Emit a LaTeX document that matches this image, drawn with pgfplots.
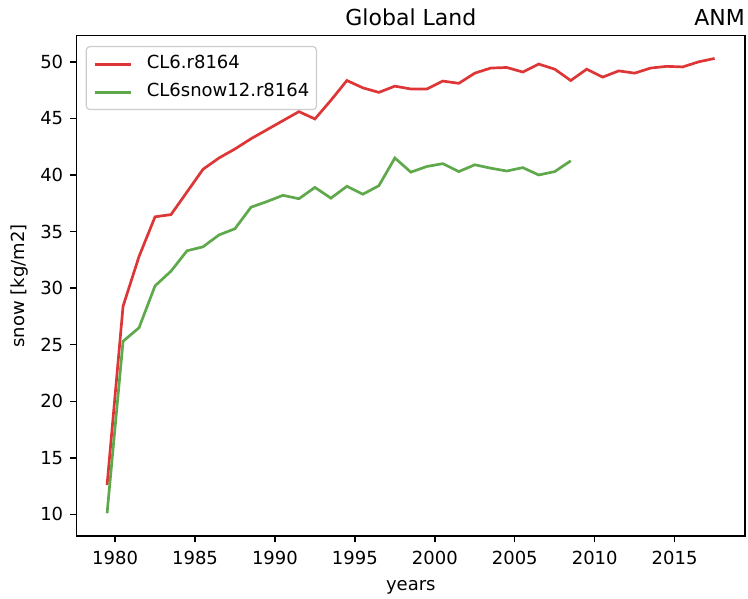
\documentclass[border=0pt]{standalone}
\usepackage{fontspec}
\setmainfont{DejaVu Sans}
\usepackage{pgfplots}
\pgfplotsset{compat=1.18}
\definecolor{cred}{RGB}{222,54,54}
\definecolor{cgreen}{RGB}{95,168,75}
\begin{document}
\begin{tikzpicture}
\useasboundingbox (-76.7pt,-62pt) rectangle (671.3pt,536pt);
\begin{axis}[
  name=ax,
  at={(0pt,0pt)}, anchor=south west,
  scale only axis, width=668.3pt, height=500.3pt,
  xmin=1977.6, xmax=2019.4, ymin=8.09, ymax=52.31,
  xtick={1980,1985,...,2015}, ytick={10,15,...,50},
  /pgf/number format/1000 sep={},
  /pgf/number format/assume math mode=true,
  tick align=outside, xtick pos=bottom, ytick pos=left,
  major tick length=6.3pt,
  every tick/.style={black, line width=1.44pt},
  axis line style={line width=1.44pt},
  tick label style={font=\fontsize{18}{21.6}\selectfont, text=black},
  xticklabel style={inner sep=0pt, yshift=-8.7pt},
  yticklabel style={inner sep=0pt, xshift=-7pt},
  legend style={at={(axis description cs:0,1)}, anchor=north west,
    xshift=9pt, yshift=-10.3pt, draw=black!20, line width=1.2pt,
    rounded corners=3.6pt, fill=white, fill opacity=0.8, text opacity=1,
    inner xsep=7.2pt, inner ysep=9pt,
    font=\fontsize{18}{21.6}\selectfont,
    nodes={inner sep=0pt, text height=13pt, text depth=4pt},
    column sep=14.4pt, row sep=11pt},
  legend cell align=left,
  legend image code/.code={\draw[#1, line width=3pt, sharp corners] (0pt,0pt) -- (36pt,0pt);},
]
\addplot[cred, line width=2.7pt] coordinates {
(1979.5,12.6) (1980.5,28.4) (1981.5,32.8) (1982.5,36.3) (1983.5,36.5)
(1984.5,38.5) (1985.5,40.5) (1986.5,41.5) (1987.5,42.3) (1988.5,43.2)
(1989.5,44.0) (1990.5,44.8) (1991.5,45.6) (1992.5,44.95) (1993.5,46.6)
(1994.5,48.35) (1995.5,47.7) (1996.5,47.3) (1997.5,47.85) (1998.5,47.6)
(1999.5,47.6) (2000.5,48.3) (2001.5,48.1) (2002.5,49.0) (2003.5,49.45)
(2004.5,49.5) (2005.5,49.1) (2006.5,49.8) (2007.5,49.35) (2008.5,48.35)
(2009.5,49.35) (2010.5,48.65) (2011.5,49.2) (2012.5,49.0) (2013.5,49.45)
(2014.5,49.6) (2015.5,49.55) (2016.5,50.0) (2017.5,50.3)
};
\addlegendentry{CL6.r8164}
\addplot[cgreen, line width=2.7pt] coordinates {
(1979.5,10.1) (1980.5,25.3) (1981.5,26.5) (1982.5,30.2) (1983.5,31.5)
(1984.5,33.3) (1985.5,33.65) (1986.5,34.7) (1987.5,35.25) (1988.5,37.15)
(1989.5,37.65) (1990.5,38.2) (1991.5,37.9) (1992.5,38.9) (1993.5,37.95)
(1994.5,39.0) (1995.5,38.3) (1996.5,39.05) (1997.5,41.5) (1998.5,40.25)
(1999.5,40.75) (2000.5,41.0) (2001.5,40.3) (2002.5,40.9) (2003.5,40.6)
(2004.5,40.35) (2005.5,40.65) (2006.5,40.0) (2007.5,40.3) (2008.5,41.25)
};
\addlegendentry{CL6snow12.r8164}
\end{axis}
\node[anchor=base, inner sep=0pt, font=\fontsize{22}{26}\selectfont] at ([yshift=10.5pt]ax.north) {Global Land};
\node[anchor=base east, inner sep=0pt, font=\fontsize{22}{26}\selectfont] at ([yshift=10.5pt]ax.north east) {ANM};
\node[anchor=base, inner sep=0pt, font=\fontsize{18}{21.6}\selectfont] at ([yshift=-54pt]ax.south) {years};
\node[rotate=90, anchor=center, inner sep=0pt, font=\fontsize{18}{21.6}\selectfont] at ([xshift=-56.7pt]ax.west) {snow [kg/m2]};
\end{tikzpicture}
\end{document}
